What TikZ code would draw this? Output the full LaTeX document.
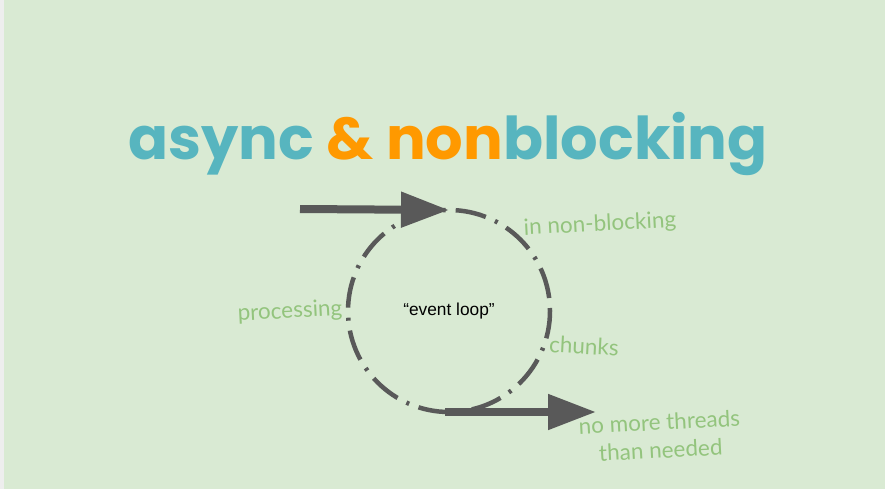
\documentclass[tikz,border=0pt]{standalone}
\usepackage{fontspec}
\setmainfont{Liberation Sans}
\newfontfamily\titlefont{Poppins}
\newfontfamily\notefont{Lato}
\usetikzlibrary{arrows.meta}
\definecolor{bg}{HTML}{D9EAD3}
\definecolor{edge}{HTML}{EEEEEE}
\definecolor{loopgray}{HTML}{595959}
\definecolor{teal}{HTML}{57B5BF}
\definecolor{amber}{HTML}{FF9900}
\definecolor{note}{HTML}{93C47D}
\tikzset{
  loopring/.style={circle, draw=loopgray, line width=4.5pt, minimum size=202pt,
    inner sep=0pt, outer sep=0pt,
    dash pattern=on 3pt off 10pt on 31pt off 10pt,
    font=\fontsize{17.3}{20}\selectfont, text=black},
  flow/.style={draw=loopgray, line width=8pt,
    -{Triangle[length=48pt, width=34pt]}},
  notetext/.style={text=note, font=\notefont\fontsize{22.5}{28}\selectfont, inner sep=0pt, align=center},
}
\begin{document}
\begin{tikzpicture}[x=1pt, y=-1pt]
  \fill[bg] (0,0) rectangle (885,489);
  \fill[edge] (0,0) rectangle (4,489);
  \useasboundingbox (0,0) rectangle (885,489);

  % heading
  \node[inner sep=0pt, font=\titlefont\bfseries\fontsize{59}{64}\selectfont] (heading) at (448,144)
    {\textcolor{teal}{async} \textcolor{amber}{\& non}\textcolor{teal}{blocking}};

  % the event loop
  \node[loopring] (loop) at (449,311) {\textquotedblleft event loop\textquotedblright};
  \coordinate (src) at (300,209);
  \coordinate (sink) at (596,412);
  \draw[flow] (src) -- (loop.north);
  \draw[flow] ([xshift=-4pt]loop.south) -- (sink);

  % notes around the loop
  \node[notetext, rotate=3] (n1) at (600,225) {in non-blocking};
  \node[notetext, rotate=3] (n2) at (290,312) {processing};
  \node[notetext, rotate=-3] (n3) at (584,346) {chunks};
  \node[notetext, rotate=3] (n4) at (660,436) {no more threads\\than needed};
\end{tikzpicture}
\end{document}
